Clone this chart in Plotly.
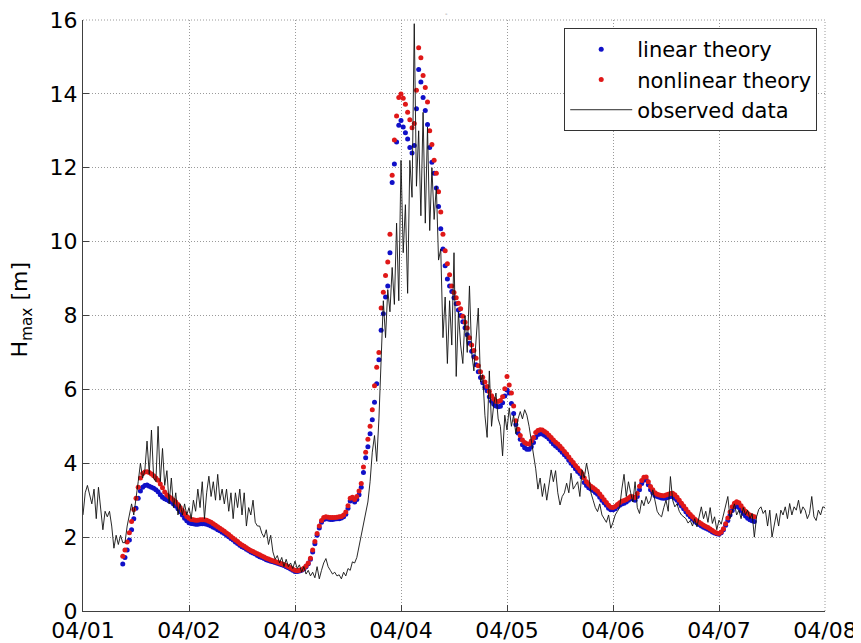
import pandas as pd
import plotly.graph_objects as go

# ---- data (half-hourly values) ----
STEP_H = 0.5
OBS_START_H = 0.0
THEORY_START_H = 9.0
BASE_DATE = "2000-04-01"
TICK_LABELS = ["04/01", "04/02", "04/03", "04/04", "04/05", "04/06", "04/07", "04/08"]
Y_TICKS = [0, 2, 4, 6, 8, 10, 12, 14, 16]

linear_theory = [
    1.27, 1.45, 1.65, 1.92, 2.2, 2.5, 2.78, 3.05, 3.25, 3.35,
    3.4, 3.41, 3.38, 3.35, 3.32, 3.28, 3.23, 3.15, 3.08, 3.04,
    3.01, 2.98, 2.95, 2.9, 2.84, 2.77, 2.69, 2.6, 2.51, 2.44,
    2.39, 2.37, 2.36, 2.35, 2.35, 2.36, 2.36, 2.36, 2.35, 2.33,
    2.3, 2.27, 2.24, 2.2, 2.17, 2.13, 2.1, 2.05, 2.01, 1.96,
    1.92, 1.87, 1.83, 1.78, 1.74, 1.71, 1.67, 1.64, 1.6, 1.57,
    1.54, 1.5, 1.47, 1.45, 1.42, 1.39, 1.37, 1.35, 1.33, 1.31,
    1.29, 1.27, 1.25, 1.23, 1.2, 1.17, 1.14, 1.1, 1.07, 1.07,
    1.08, 1.1, 1.14, 1.2, 1.28, 1.4, 1.6, 1.82, 2.05, 2.25,
    2.4, 2.48, 2.5, 2.49, 2.48, 2.48, 2.49, 2.5, 2.5, 2.52,
    2.55, 2.62, 2.78, 2.98, 3.02, 2.95, 3.02, 3.15, 3.35, 3.75,
    4.15, 4.45, 4.8, 5.18, 5.65, 6.15, 6.8, 7.6, 8.05, 8.5,
    8.8, 9.7, 11.6, 12.1, 12.7, 13.15, 13.28, 13.1, 12.95, 12.78,
    12.55, 12.4, 12.6, 13.6, 14.66, 14.32, 13.9, 13.55, 13.17, 12.55,
    12.15, 11.85, 11.45, 10.95, 10.35, 9.8, 9.35, 8.99, 8.8, 8.65,
    8.48, 8.32, 8.15, 8.0, 7.83, 7.67, 7.48, 7.25, 7.03, 6.88,
    6.67, 6.48, 6.32, 6.18, 6.05, 5.96, 5.8, 5.68, 5.6, 5.55,
    5.53, 5.54, 5.64, 5.82, 5.98, 5.9, 5.62, 5.35, 5.05, 4.82,
    4.65, 4.5, 4.42, 4.38, 4.38, 4.45, 4.56, 4.7, 4.78, 4.8,
    4.79, 4.76, 4.72, 4.66, 4.59, 4.52, 4.47, 4.42, 4.36, 4.3,
    4.23, 4.17, 4.08, 4.0, 3.93, 3.85, 3.78, 3.72, 3.63, 3.48,
    3.4, 3.34, 3.3, 3.26, 3.21, 3.16, 3.08, 3.0, 2.93, 2.86,
    2.78, 2.74, 2.74, 2.77, 2.82, 2.86, 2.9, 2.92, 2.95, 3.0,
    3.04, 3.03, 3.0, 3.1, 3.28, 3.45, 3.54, 3.55, 3.42, 3.28,
    3.2, 3.13, 3.1, 3.08, 3.06, 3.05, 3.06, 3.08, 3.1, 3.1,
    3.05, 3.0, 2.92, 2.84, 2.77, 2.69, 2.61, 2.55, 2.49, 2.43,
    2.38, 2.34, 2.3, 2.27, 2.24, 2.21, 2.18, 2.14, 2.11, 2.09,
    2.08, 2.12, 2.2, 2.32, 2.45, 2.6, 2.72, 2.82, 2.84, 2.8,
    2.72, 2.64, 2.57, 2.51, 2.47, 2.44, 2.42,
]

nonlinear_theory = [
    1.48, 1.65, 1.87, 2.12, 2.42, 2.75, 3.05, 3.35, 3.6, 3.72,
    3.76, 3.77, 3.75, 3.71, 3.66, 3.6, 3.54, 3.44, 3.34, 3.22,
    3.14, 3.09, 3.05, 3.0, 2.95, 2.88, 2.8, 2.72, 2.64, 2.56,
    2.51, 2.48, 2.47, 2.46, 2.46, 2.47, 2.47, 2.47, 2.46, 2.43,
    2.4, 2.36, 2.32, 2.28, 2.24, 2.2, 2.16, 2.11, 2.07, 2.02,
    1.97, 1.92, 1.88, 1.83, 1.79, 1.75, 1.71, 1.67, 1.64, 1.61,
    1.58, 1.55, 1.52, 1.49, 1.46, 1.43, 1.41, 1.38, 1.36, 1.34,
    1.32, 1.3, 1.28, 1.26, 1.23, 1.2, 1.17, 1.13, 1.1, 1.09,
    1.1, 1.12, 1.16, 1.22, 1.3, 1.43, 1.65, 1.88, 2.1, 2.3,
    2.45, 2.53, 2.55, 2.54, 2.53, 2.53, 2.53, 2.54, 2.55, 2.56,
    2.6, 2.68, 2.85, 3.05, 3.08, 3.02, 3.1, 3.25, 3.45, 3.9,
    4.3, 4.65, 5.0, 5.45, 6.1, 6.6, 7.0, 8.2, 8.63, 9.08,
    9.45, 10.2, 11.8, 12.75, 13.4, 13.9, 14.0, 13.88, 13.72, 13.5,
    13.3, 13.08, 13.2, 14.1, 15.25, 14.98, 14.5, 14.17, 13.78, 13.0,
    12.63, 12.2, 11.85, 11.35, 10.8, 10.2, 9.75, 9.4, 9.1, 8.8,
    8.62, 8.48, 8.33, 8.18, 7.98, 7.82, 7.66, 7.4, 7.2, 7.05,
    6.84, 6.64, 6.48, 6.33, 6.2, 6.08, 5.94, 5.83, 5.74, 5.68,
    5.67, 5.7, 5.8, 6.02, 6.35, 6.12, 5.9, 5.55, 5.15, 4.92,
    4.75, 4.63, 4.56, 4.53, 4.52, 4.6, 4.7, 4.83, 4.89, 4.91,
    4.9, 4.86, 4.82, 4.76, 4.7, 4.63, 4.57, 4.52, 4.46, 4.39,
    4.32, 4.25, 4.17, 4.09, 4.02, 3.94, 3.87, 3.8, 3.72, 3.6,
    3.5, 3.43, 3.38, 3.34, 3.29, 3.24, 3.17, 3.09, 3.01, 2.94,
    2.86, 2.81, 2.8, 2.83, 2.88, 2.93, 2.97, 2.99, 3.02, 3.06,
    3.1, 3.09, 3.07, 3.18, 3.38, 3.53, 3.62, 3.63, 3.5, 3.37,
    3.28, 3.2, 3.16, 3.14, 3.13, 3.12, 3.14, 3.16, 3.18, 3.19,
    3.15, 3.08, 3.0, 2.92, 2.84, 2.76, 2.68, 2.61, 2.55, 2.49,
    2.44, 2.4, 2.36, 2.32, 2.29, 2.26, 2.22, 2.18, 2.14, 2.11,
    2.1, 2.14, 2.23, 2.36, 2.52, 2.68, 2.82, 2.92, 2.96, 2.93,
    2.85, 2.77, 2.7, 2.64, 2.6, 2.57, 2.55,
]

observed_data = [
    2.6, 3.2, 3.4, 3.1, 2.9, 3.3, 2.5, 3.35, 2.8, 2.2,
    2.7, 2.55, 2.7, 2.3, 1.7, 2.05, 1.8, 2.05, 1.85, 1.85,
    2.3, 2.6, 2.9, 2.6, 3.0, 3.5, 4.0, 3.6, 3.8, 4.6,
    3.7, 4.9, 3.6, 3.5, 5.0, 3.5, 4.4, 3.4, 3.8, 2.9,
    3.6, 2.8, 3.2, 2.6, 2.9, 2.6, 2.9, 2.6, 2.8, 2.5,
    3.0, 2.7, 3.3, 2.8, 3.5, 2.5, 3.2, 3.65, 3.1, 3.5,
    3.0, 3.7, 3.0, 3.3, 2.9, 3.3, 2.7, 3.2, 2.5, 3.2,
    2.8, 3.3, 2.6, 3.2, 2.3, 2.8, 2.6, 3.0, 2.4, 2.3,
    2.3, 2.1, 2.0, 2.2, 1.8, 2.05, 1.6, 1.4, 1.5, 1.3,
    1.45, 1.2, 1.4, 1.2, 1.3, 1.15, 1.35, 1.15, 1.25, 1.05,
    1.2, 1.0, 1.1, 0.95, 1.05, 0.9, 1.2, 0.87, 1.1, 1.3,
    1.42, 1.2, 1.1, 1.0, 1.05, 0.95, 0.98, 0.87, 1.05, 0.95,
    1.15, 1.1, 1.33, 1.3, 1.45, 1.75, 2.0, 2.3, 2.6, 2.95,
    3.5, 4.3, 4.75, 4.05, 5.2, 7.0, 8.4, 7.4, 8.7, 8.1,
    9.3, 8.3, 10.5, 8.4, 12.2, 9.7, 11.0, 8.6, 12.2, 11.2,
    15.9, 11.5, 13.0, 10.7, 13.5, 10.5, 13.1, 10.3, 12.0, 10.6,
    11.5, 9.5, 9.8, 7.4, 8.5, 6.7, 8.4, 7.2, 9.7, 6.35,
    8.1, 7.2, 6.7, 8.0, 7.0, 8.8, 7.0, 6.5, 7.4, 8.2,
    6.2, 6.4, 5.3, 4.7, 6.5, 5.0, 5.6, 5.9, 5.2, 5.0,
    4.2, 5.3, 4.9, 5.5, 5.0, 5.3, 4.8, 5.2, 5.4, 5.2,
    5.45, 5.3, 5.0, 4.6, 4.3, 3.85, 3.3, 3.6, 3.1, 3.45,
    3.0, 3.4, 3.82, 3.5, 3.8, 3.2, 2.87, 3.1, 3.2, 3.46,
    3.2, 3.73, 3.3, 3.4, 3.5, 3.1, 3.82, 3.6, 4.0, 3.7,
    3.2, 3.0, 2.8, 2.69, 2.9, 2.6, 2.5, 2.4, 2.6, 2.24,
    2.4, 2.6, 2.7, 2.8, 3.3, 3.7, 3.1, 3.5, 3.2, 2.95,
    3.5, 2.8, 2.64, 3.0, 2.85, 3.1, 2.9, 3.0, 3.28, 3.0,
    2.7, 2.6, 2.55, 2.8, 3.0, 2.7, 3.64, 3.0, 2.82, 2.9,
    2.7, 2.6, 2.55, 2.5, 2.38, 2.45, 2.3, 2.5, 2.28, 2.6,
    2.82, 2.5, 2.7, 2.4, 2.8, 2.37, 2.55, 2.2, 2.46, 2.35,
    2.6, 2.9, 3.1, 2.5, 2.7, 2.9, 2.6, 2.73, 2.5, 2.8,
    2.6, 2.73, 2.5, 2.64, 2.0, 2.55, 2.75, 2.82, 2.64, 2.73,
    2.3, 2.73, 2.0, 2.37, 2.64, 2.3, 2.73, 2.6, 2.82, 2.5,
    2.91, 2.6, 2.82, 2.73, 3.0, 2.64, 2.82, 2.73, 2.5, 2.64,
    3.1, 2.55, 2.45, 2.73, 2.6, 2.82, 2.8,
]


def times(start_h, n):
    base = pd.Timestamp(BASE_DATE)
    return [base + pd.Timedelta(hours=start_h + STEP_H * i) for i in range(n)]


t_theory_lin = times(THEORY_START_H, len(linear_theory))
t_theory_non = times(THEORY_START_H, len(nonlinear_theory))
t_obs = times(OBS_START_H, len(observed_data))
tick_vals = [pd.Timestamp(BASE_DATE) + pd.Timedelta(days=i) for i in range(len(TICK_LABELS))]

FONT = "DejaVu Sans, Liberation Sans, Arial, sans-serif"
FS = 22
GRID_COLOR = "#9a9a9a"
GRID_DASH = "1px,2px"

fig = go.Figure()
fig.add_trace(go.Scatter(
    x=t_theory_lin, y=linear_theory, mode="markers", name="linear theory",
    marker=dict(color="#1010c8", size=5, line=dict(width=0)),
))
fig.add_trace(go.Scatter(
    x=t_theory_non, y=nonlinear_theory, mode="markers", name="nonlinear theory",
    marker=dict(color="#e01818", size=5, line=dict(width=0)),
))
fig.add_trace(go.Scatter(
    x=t_obs, y=observed_data, mode="lines", name="observed data",
    line=dict(color="#111111", width=0.9),
))

grid_style = dict(showgrid=True, gridcolor=GRID_COLOR, griddash=GRID_DASH, gridwidth=1)
axis_style = dict(showline=True, linecolor="#404040", linewidth=1, mirror=False,
                  ticks="inside", ticklen=6, tickcolor="#404040",
                  tickfont=dict(family=FONT, size=FS, color="#000000"),
                  zeroline=False, automargin=False, ticklabeloverflow="allow")

# the page body adds an 8px offset, so margins are shifted by 8px
fig.update_layout(
    width=861, height=643,
    margin=dict(l=75, r=44, t=12, b=40, autoexpand=False),
    paper_bgcolor="white", plot_bgcolor="white",
    font=dict(family=FONT, size=FS, color="#000000"),
    showlegend=True,
    legend=dict(
        x=0.9895, y=0.9865, xanchor="right", yanchor="top",
        bgcolor="white", bordercolor="#333333", borderwidth=1,
        font=dict(family=FONT, size=21, color="#000000"),
        tracegroupgap=0, itemsizing="trace", itemwidth=62,
    ),
    xaxis=dict(
        type="date",
        range=[tick_vals[0], tick_vals[-1]],
        tickvals=tick_vals, ticktext=TICK_LABELS,
        **grid_style, **axis_style,
    ),
    yaxis=dict(
        range=[0, 16], tickvals=Y_TICKS,
        **grid_style, **axis_style,
    ),
    shapes=[
        dict(type="line", xref="paper", yref="paper", x0=0, x1=1, y0=1, y1=1,
             line=dict(color=GRID_COLOR, width=1, dash=GRID_DASH), layer="below"),
        dict(type="line", xref="paper", yref="paper", x0=1, x1=1, y0=0, y1=1,
             line=dict(color=GRID_COLOR, width=1, dash=GRID_DASH), layer="below"),
    ],
    annotations=[
        dict(text="H<sub>max</sub> [m]", xref="paper", yref="paper",
             x=-0.0822, y=0.51, xanchor="center", yanchor="middle",
             textangle=-90, showarrow=False,
             font=dict(family=FONT, size=FS, color="#000000")),
        dict(text="-", xref="paper", yref="paper", x=0.49, y=1.0,
             xanchor="center", yanchor="bottom", yshift=0, showarrow=False,
             font=dict(family=FONT, size=7, color="#888888")),
    ],
)

fig.write_html("out.html")
